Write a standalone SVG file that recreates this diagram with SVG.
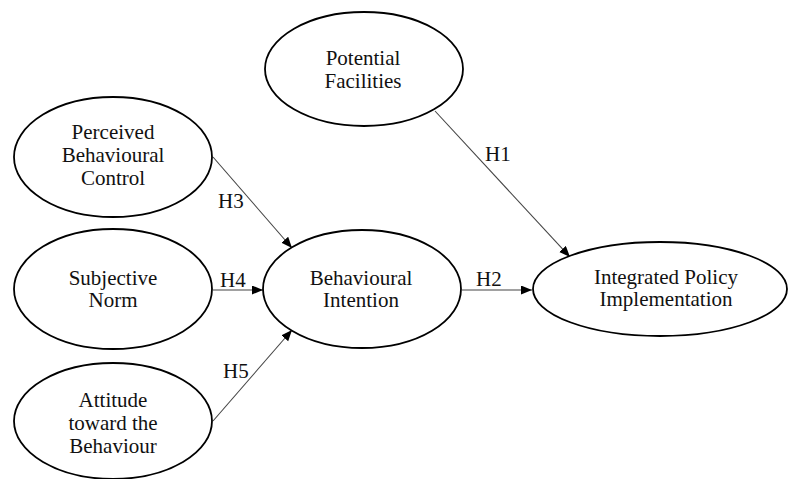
<svg xmlns="http://www.w3.org/2000/svg" width="788" height="479" viewBox="0 0 788 479" font-family="'Liberation Serif', 'Times New Roman', serif" font-size="21">
<style>
.node ellipse{fill:#fff;stroke:#000;stroke-width:1.8}
text{font-family:'Liberation Serif','Times New Roman',serif;font-size:21px;fill:#111}
.node text{text-anchor:middle}
.edge{stroke:#444;stroke-width:1.1;fill:none;marker-end:url(#ah)}
</style>
<defs>
<marker id="ah" markerUnits="userSpaceOnUse" markerWidth="12" markerHeight="10" refX="11" refY="4.5" orient="auto">
<path d="M0,0 L11,4.5 L0,9 z" fill="#000"/>
</marker>
</defs>
<rect width="788" height="479" fill="#fff"/>
<g id="connectors">
<line class="edge" x1="435" y1="111" x2="570" y2="257"/>
<line class="edge" x1="462" y1="290" x2="532" y2="290"/>
<line class="edge" x1="213" y1="157" x2="292" y2="248"/>
<line class="edge" x1="213" y1="290" x2="263" y2="290"/>
<line class="edge" x1="213" y1="421" x2="292" y2="330"/>
<text x="485" y="161">H1</text>
<text x="476" y="286">H2</text>
<text x="218" y="208">H3</text>
<text x="220" y="287">H4</text>
<text x="223" y="378">H5</text>
</g>
<g id="potential-facilities" class="node">
<ellipse cx="364" cy="69" rx="99" ry="57"/>
<text x="363" y="65">Potential</text>
<text x="363" y="88">Facilities</text>
</g>
<g id="perceived-behavioural-control" class="node">
<ellipse cx="113" cy="157" rx="99" ry="60"/>
<text x="113" y="139">Perceived</text>
<text x="113" y="162">Behavioural</text>
<text x="113" y="185">Control</text>
</g>
<g id="subjective-norm" class="node">
<ellipse cx="113" cy="289" rx="99" ry="60"/>
<text x="113" y="285">Subjective</text>
<text x="113" y="307">Norm</text>
</g>
<g id="attitude" class="node">
<ellipse cx="113" cy="421" rx="99" ry="58"/>
<text x="113" y="407">Attitude</text>
<text x="113" y="430">toward the</text>
<text x="113" y="453">Behaviour</text>
</g>
<g id="behavioural-intention" class="node">
<ellipse cx="362" cy="289" rx="99" ry="59"/>
<text x="361" y="285">Behavioural</text>
<text x="361" y="307">Intention</text>
</g>
<g id="integrated-policy-implementation" class="node">
<ellipse cx="660" cy="289" rx="127" ry="47"/>
<text x="666" y="284">Integrated Policy</text>
<text x="666" y="306">Implementation</text>
</g>
</svg>
